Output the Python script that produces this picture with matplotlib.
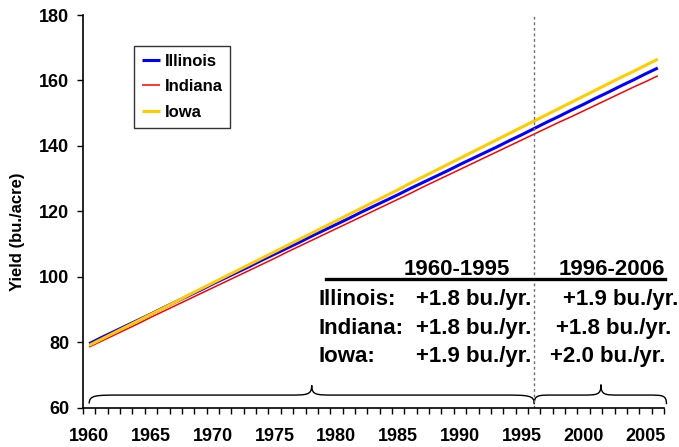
import matplotlib
matplotlib.use("Agg")
import matplotlib.pyplot as plt
from matplotlib.path import Path
from matplotlib.patches import PathPatch
import numpy as np

plt.rcParams['font.family'] = ['Liberation Sans', 'DejaVu Sans']
plt.rcParams['font.weight'] = 'bold'

years = list(range(1960, 2007))
illinois = [79.5, 81.4, 83.2, 85.0, 86.8, 88.6, 90.5, 92.3, 94.1, 95.9,
            97.8, 99.6, 101.4, 103.2, 105.1, 106.9, 108.7, 110.5, 112.4, 114.2,
            116.0, 117.8, 119.7, 121.5, 123.3, 125.1, 127.0, 128.8, 130.6, 132.4,
            134.3, 136.1, 137.9, 139.7, 141.6, 143.4, 145.3, 147.2, 149.0, 150.9,
            152.7, 154.6, 156.4, 158.3, 160.1, 162.0, 163.8]
indiana = [78.5, 80.3, 82.1, 83.9, 85.7, 87.6, 89.4, 91.2, 93.0, 94.8,
           96.6, 98.4, 100.2, 102.0, 103.8, 105.6, 107.5, 109.3, 111.1, 112.9,
           114.7, 116.5, 118.3, 120.1, 121.9, 123.7, 125.5, 127.4, 129.2, 131.0,
           132.8, 134.6, 136.4, 138.2, 140.0, 141.8, 143.6, 145.4, 147.2, 148.9,
           150.7, 152.5, 154.3, 156.1, 157.9, 159.6, 161.4]
iowa = [79.0, 80.9, 82.8, 84.7, 86.6, 88.5, 90.4, 92.3, 94.3, 96.2,
        98.1, 100.0, 101.9, 103.8, 105.7, 107.6, 109.5, 111.4, 113.3, 115.2,
        117.1, 119.0, 120.9, 122.8, 124.7, 126.6, 128.6, 130.5, 132.4, 134.3,
        136.2, 138.1, 140.0, 141.9, 143.8, 145.7, 147.6, 149.5, 151.4, 153.3,
        155.2, 157.1, 159.0, 160.9, 162.7, 164.6, 166.5]

series_names = ["Illinois", "Indiana", "Iowa"]
x_tick_labels = [1960, 1965, 1970, 1975, 1980, 1985, 1990, 1995, 2000, 2005]
y_ticks = [60, 80, 100, 120, 140, 160, 180]
period_labels = ["1960-1995", "1996-2006"]
break_year = 1996
rate_labels = ["Illinois:", "Indiana:", "Iowa:"]
rates_early = ["+1.8 bu./yr.", "+1.8 bu./yr.", "+1.9 bu./yr."]
rates_late = ["+1.9 bu./yr.", "+1.8 bu./yr.", "+2.0 bu./yr."]

W, H = 679, 447
fig = plt.figure(figsize=(W / 100, H / 100), dpi=100)
ax = fig.add_axes([83 / W, 1 - 407.5 / H, (664 - 83) / W, (407.5 - 15) / H])

def px(x, y):
    return x / W, 1 - y / H

ax.plot(years, illinois, color='#0000FF', lw=2.2, label=series_names[0], solid_capstyle='butt')
ax.plot(years, indiana, color='#FF0000', lw=1.1, label=series_names[1], solid_capstyle='butt')
ax.plot(years, iowa, color='#FFCC00', lw=2.2, label=series_names[2], solid_capstyle='butt')

ax.set_xlim(1959.5, 2006.5)
ax.set_ylim(60, 180)
ax.set_yticks(y_ticks)
ax.set_xticks(x_tick_labels)
ax.set_xticks(np.arange(1959.5, 2007, 1.0), minor=True)
ax.tick_params(axis='x', which='major', length=0, pad=15, labelsize=13)
ax.tick_params(axis='x', which='minor', length=4, width=1, direction='out')
ax.tick_params(axis='y', which='major', length=4, width=1, direction='out', pad=6, labelsize=13)
for lbl in ax.get_xticklabels() + ax.get_yticklabels():
    lbl.set_fontweight('bold')
for s in ['top', 'right']:
    ax.spines[s].set_visible(False)
for s in ['left', 'bottom']:
    ax.spines[s].set_linewidth(1.2)

fig.text(*px(18, 232), "Yield (bu./acre)", rotation=90, ha='center', va='center',
         fontsize=12, fontweight='bold')

ax.axvline(break_year, color='#707070', lw=1.0, ls=(0, (2, 2)))

leg = ax.legend(loc='upper left', bbox_to_anchor=((134 - 83) / (664 - 83), 1 - (46 - 15) / 392.5),
                frameon=True, fancybox=False, shadow=False, fontsize=12, handlelength=1.1,
                handletextpad=0.3, borderpad=0.45, labelspacing=0.65, borderaxespad=0)
leg.get_frame().set_edgecolor('black')
leg.get_frame().set_linewidth(1.0)
for t in leg.get_texts():
    t.set_fontweight('bold')

# braces
def brace(ax, x0, x1, xm, ybase, ypeak, yend, w0, wm):
    verts = [(x0, yend),
             (x0, ybase), (x0 + w0 * 0.2, ybase), (x0 + w0, ybase),
             (xm - wm, ybase),
             (xm - wm * 0.2, ybase), (xm, ybase), (xm, ypeak),
             (xm, ybase), (xm + wm * 0.2, ybase), (xm + wm, ybase),
             (x1 - w0, ybase),
             (x1 - w0 * 0.2, ybase), (x1, ybase), (x1, yend)]
    codes = [Path.MOVETO,
             Path.CURVE4, Path.CURVE4, Path.CURVE4,
             Path.LINETO,
             Path.CURVE4, Path.CURVE4, Path.CURVE4,
             Path.CURVE4, Path.CURVE4, Path.CURVE4,
             Path.LINETO,
             Path.CURVE4, Path.CURVE4, Path.CURVE4]
    p = PathPatch(Path(verts, codes), fill=False, lw=1.0, edgecolor='black', clip_on=False)
    ax.add_patch(p)

brace(ax, 1960.0, 1996.0, 1978.0, 63.8, 66.8, 61.2, 2.6, 1.8)
brace(ax, 1996.0, 2006.7, 2001.4, 63.8, 67.0, 61.0, 1.5, 1.5)

# table text
fs = 16
fig.text(*px(404, 275), period_labels[0], fontsize=fs, fontweight='bold', ha='left', va='baseline')
fig.text(*px(559, 275), period_labels[1], fontsize=fs, fontweight='bold', ha='left', va='baseline')
fig.add_artist(plt.Line2D([326 / W, 665 / W], [1 - 279 / H, 1 - 279 / H], color='black', lw=2.4))
row_base = [305, 334, 362]
late_x = [563, 556, 550]
for i in range(3):
    fig.text(*px(319, row_base[i]), rate_labels[i], fontsize=fs, fontweight='bold', ha='left', va='baseline')
    fig.text(*px(531, row_base[i]), rates_early[i], fontsize=fs, fontweight='bold', ha='right', va='baseline')
    fig.text(*px(late_x[i], row_base[i]), rates_late[i], fontsize=fs, fontweight='bold', ha='left', va='baseline')

fig.savefig("out.png", dpi=100)
